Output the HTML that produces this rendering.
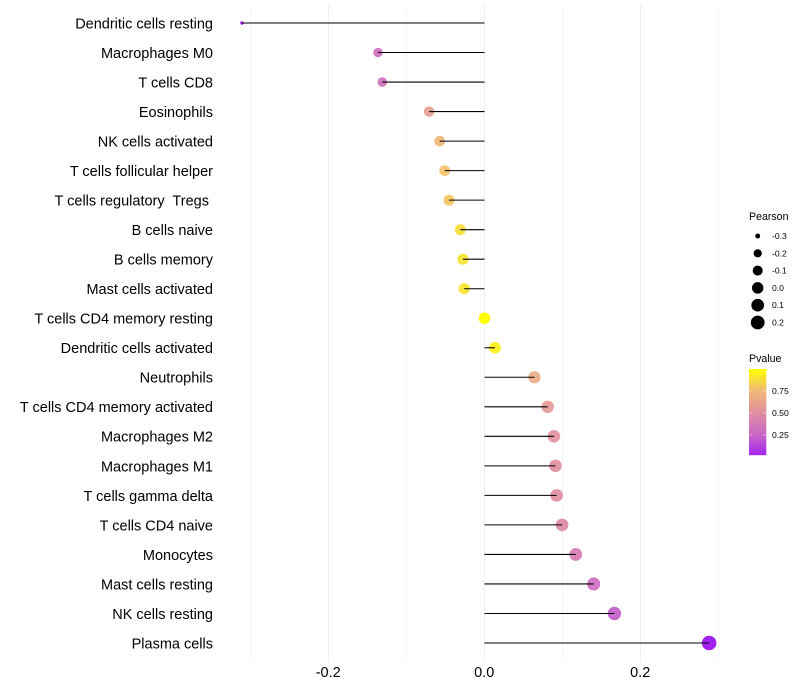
<!DOCTYPE html>
<html>
<head>
<meta charset="utf-8">
<style>
html,body{margin:0;padding:0;background:#fff;width:800px;height:700px;overflow:hidden}
svg{display:block;font-family:"Liberation Sans",sans-serif}
text{white-space:pre}
</style>
</head>
<body>
<svg id="chart" xmlns="http://www.w3.org/2000/svg" width="800" height="700" viewBox="0 0 800 700">
<g id="grid"></g>
<g id="points"></g>
<g id="segments"></g>
<g id="ylabels"></g>
<g id="xlabels"></g>
<g id="size-legend">
<text x="749" y="220" font-size="10.6" fill="#000">Pearson</text>
</g>
<g id="color-legend">
<text x="749" y="362" font-size="10.6" fill="#000">Pvalue</text>
</g>
</svg>
<script>
const categories = ["Dendritic cells resting","Macrophages M0","T cells CD8","Eosinophils","NK cells activated","T cells follicular helper","T cells regulatory  Tregs ","B cells naive","B cells memory","Mast cells activated","T cells CD4 memory resting","Dendritic cells activated","Neutrophils","T cells CD4 memory activated","Macrophages M2","Macrophages M1","T cells gamma delta","T cells CD4 naive","Monocytes","Mast cells resting","NK cells resting","Plasma cells"];
const pearson = [-0.311,-0.1365,-0.131,-0.071,-0.0575,-0.051,-0.0455,-0.031,-0.0275,-0.026,0,0.0135,0.064,0.081,0.089,0.091,0.0925,0.0995,0.117,0.14,0.1665,0.288];
const pvalues = [0,0.3,0.32,0.6,0.74,0.78,0.8,0.88,0.9,0.9,1,0.95,0.67,0.56,0.51,0.5,0.5,0.47,0.39,0.3,0.22,0];
const xTickLabels = [-0.2,0,0.2];
const xGridMajor = [-0.2,0,0.2];
const xGridMinor = [-0.3,-0.1,0.1,0.3];
const sizeLegendValues = [-0.3,-0.2,-0.1,0,0.1,0.2];
const colorLegendTicks = [0.25,0.5,0.75];

const NS = "http://www.w3.org/2000/svg";
function make(tag, attrs, parent){
  const e = document.createElementNS(NS, tag);
  for (const k in attrs) e.setAttribute(k, attrs[k]);
  parent.appendChild(e);
  return e;
}
function xScale(v){ return 484.5 + v * 780; }
function yScale(i){ return 23 + i * (620 / 21); }
function rScale(v){
  const lo = -0.311, hi = 0.288;
  const t = Math.max(0, (v - lo) / (hi - lo));
  return 1.7 + Math.sqrt(t) * 5.6;
}
function mix(a, b, t){ return a.map((c, i) => Math.round(c + (b[i] - c) * t)); }
function colorScale(p){
  const ramp = [[160,32,240],[200,102,200],[224,142,160],[241,184,120],[255,255,0]];
  const s = Math.max(0, Math.min(1, p)) * 4;
  const i = Math.min(3, Math.floor(s));
  const c = mix(ramp[i], ramp[i + 1], s - i);
  return "rgb(" + c.join(",") + ")";
}

const grid = document.getElementById("grid");
xGridMinor.forEach(v => {
  const g = make("line", {x1:xScale(v), x2:xScale(v), y1:5, y2:660.5, stroke:"#f3f3f3", "stroke-width":0.8}, grid);
  
  
});
xGridMajor.forEach(v => {
  const g = make("line", {x1:xScale(v), x2:xScale(v), y1:5, y2:662, stroke:"#efefef", "stroke-width":1}, grid);
  
  
});

const points = document.getElementById("points");
const segments = document.getElementById("segments");
const ylabels = document.getElementById("ylabels");
categories.forEach((name, i) => {
  const solid = pvalues[i] === 1 || pvalues[i] === 0;
  const dot = make("circle", {cx:xScale(pearson[i]), cy:yScale(i), r:rScale(pearson[i]), fill:colorScale(pvalues[i]), "fill-opacity":solid ? 1 : 0.92}, points);
  
  
  const seg = make("line", {x1:xScale(0), x2:xScale(pearson[i]), y1:yScale(i), y2:yScale(i), stroke:"#000", "stroke-width":1.05}, segments);
  
  
  const lab = make("text", {x:213, y:yScale(i) + 5.4, "text-anchor":"end", "font-size":14.5, fill:"#000"}, ylabels);
  
  
  lab.textContent = name;
});

const xlabels = document.getElementById("xlabels");
xTickLabels.forEach(v => {
  const t = make("text", {x:xScale(v) - 0.3, y:676.8, "text-anchor":"middle", "font-size":14.5, fill:"#000"}, xlabels);
  
  
  t.textContent = v.toFixed(1);
});

const sizeLegend = document.getElementById("size-legend");
sizeLegendValues.forEach((v, i) => {
  const cy = 236 + i * 17.3;
  const k = make("circle", {cx:757.7, cy:cy, r:rScale(v), fill:"#000"}, sizeLegend);
  
  
  const t = make("text", {x:772, y:cy + 3, "font-size":8.6, fill:"#000"}, sizeLegend);
  
  
  t.textContent = v.toFixed(1);
});

const colorLegend = document.getElementById("color-legend");
const barTop = 369;
function pY(p){ return 457 - p * 88; }
const steps = 86;
for (let s = 0; s < steps; s++) {
  const y = barTop + s;
  const b = make("rect", {x:749, y:y, width:17.3, height:1.2, fill:colorScale((457 - y - 0.5) / 88)}, colorLegend);
  
  
}
colorLegendTicks.forEach(p => {
  const y = pY(p);
  const a = make("line", {x1:749, x2:752.5, y1:y, y2:y, stroke:"#fff", "stroke-opacity":0.7, "stroke-width":0.6}, colorLegend);
  
  
  const c = make("line", {x1:762.8, x2:766.3, y1:y, y2:y, stroke:"#fff", "stroke-opacity":0.7, "stroke-width":0.6}, colorLegend);
  
  
  const t = make("text", {x:772, y:y + 3, "font-size":8.6, fill:"#000"}, colorLegend);
  
  
  t.textContent = p.toFixed(2);
});
</script>
</body>
</html>
